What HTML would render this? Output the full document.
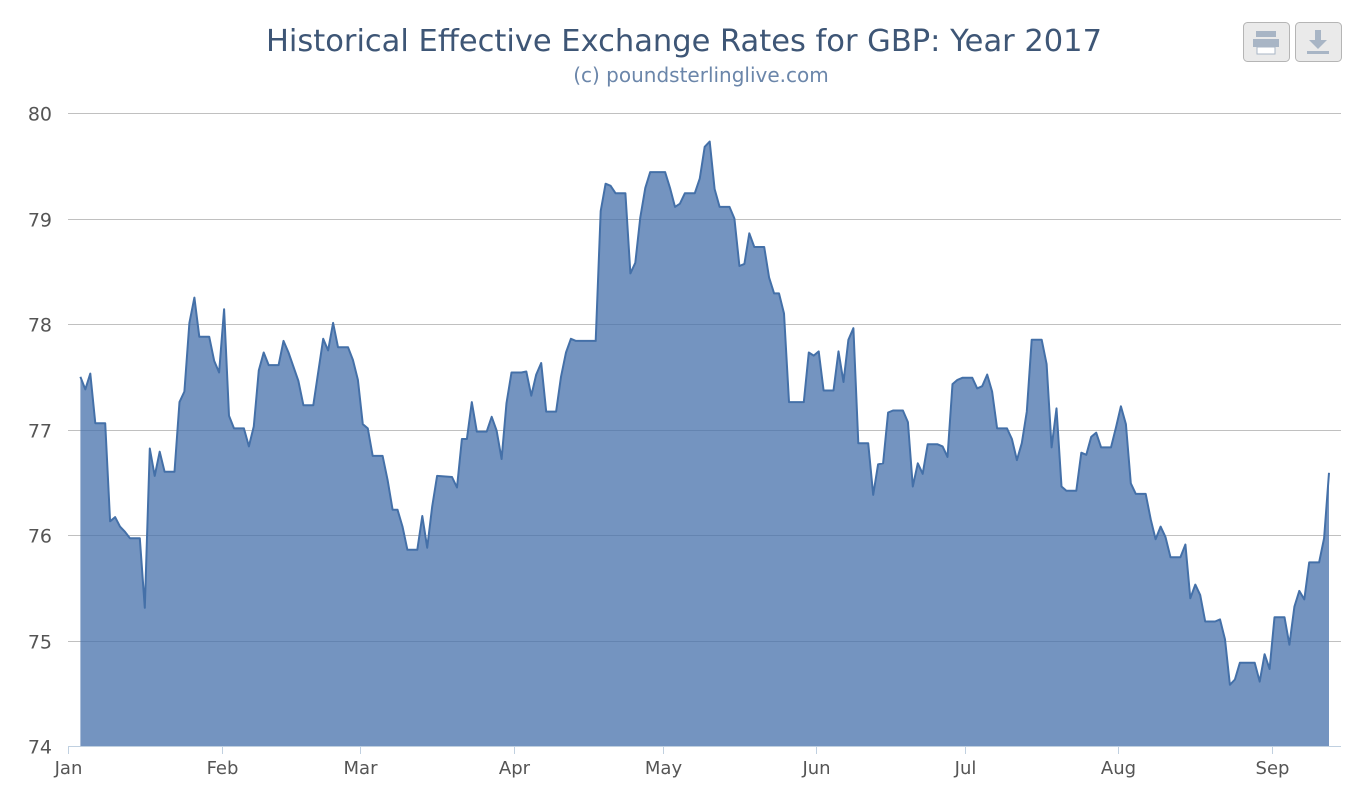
<!DOCTYPE html>
<html><head><meta charset="utf-8">
<style>
html,body{margin:0;padding:0;background:#fff;}
svg{display:block;}
text{font-family:"DejaVu Sans","Liberation Sans",sans-serif;}
</style></head>
<body>
<svg id="chart" width="1366" height="800" viewBox="0 0 1366 800">
  <text x="684" y="51" text-anchor="middle" font-size="30.5" fill="#3e5676">Historical Effective Exchange Rates for GBP: Year 2017</text>
  <text x="701" y="82" text-anchor="middle" font-size="20" fill="#6b86aa">(c) poundsterlinglive.com</text>
  <g>
    <rect x="1243.5" y="22.5" width="46" height="39" rx="4" fill="#eaeaea" stroke="#b5b5b5"/>
    <rect x="1256" y="31" width="20" height="6" fill="#a8b5c5"/>
    <rect x="1253" y="39" width="26" height="8" fill="#a8b5c5"/>
    <rect x="1257" y="47" width="18" height="7" fill="#fff" stroke="#a8b5c5"/>
  </g>
  <g>
    <rect x="1295.5" y="22.5" width="46" height="39" rx="4" fill="#eaeaea" stroke="#b5b5b5"/>
    <rect x="1315" y="30" width="6" height="10" fill="#a8b5c5"/>
    <polygon points="1309,40 1327,40 1318,49" fill="#a8b5c5"/>
    <rect x="1307" y="51" width="22" height="3" fill="#a8b5c5"/>
  </g>
  <g id="grid"></g>
  <g id="series"></g>
  <g id="axes"></g>
</svg>
<script>
const yTicks = [74, 75, 76, 77, 78, 79, 80];
const monthLabels = ["Jan","Feb","Mar","Apr","May","Jun","Jul","Aug","Sep"];
const monthStartDays = [0, 31, 59, 90, 120, 151, 181, 212, 243];
const days = [2,3,4,5,7,8,9,10,11,12,14,15,16,17,18,19,21,22,23,24,25,26,28,29,30,31,32,33,35,36,37,38,39,40,42,43,44,46,47,49,51,52,53,54,56,57,58,59,60,61,63,64,65,66,67,68,70,71,72,73,74,77,78,79,80,81,82,84,85,86,87,88,89,91,92,93,94,95,96,98,99,100,101,102,106,107,108,109,110,112,113,114,115,116,117,120,121,122,123,124,126,127,128,129,130,131,133,134,135,136,137,138,140,141,142,143,144,145,148,149,150,151,152,154,155,156,157,158,159,161,162,163,164,165,166,168,169,170,171,172,173,175,176,177,178,179,180,182,183,184,185,186,187,189,190,191,192,193,194,196,197,198,199,200,201,203,204,205,206,207,208,210,211,212,213,214,215,217,218,219,220,221,222,224,225,226,227,228,229,231,232,233,234,235,236,239,240,241,242,243,245,246,247,248,249,250,252,253,254];
const rates = [77.50,77.38,77.53,77.06,77.06,76.13,76.17,76.08,76.03,75.97,75.97,75.31,76.82,76.56,76.79,76.60,76.60,77.26,77.36,78.01,78.25,77.88,77.88,77.65,77.54,78.14,77.13,77.01,77.01,76.84,77.03,77.56,77.73,77.61,77.61,77.84,77.73,77.46,77.23,77.23,77.86,77.75,78.01,77.78,77.78,77.66,77.47,77.05,77.01,76.75,76.75,76.52,76.24,76.24,76.08,75.86,75.86,76.18,75.88,76.27,76.56,76.55,76.45,76.91,76.91,77.26,76.98,76.98,77.12,76.99,76.72,77.25,77.54,77.54,77.55,77.32,77.52,77.63,77.17,77.17,77.50,77.73,77.86,77.84,77.84,79.07,79.33,79.31,79.24,79.24,78.48,78.58,79.01,79.29,79.44,79.44,79.29,79.11,79.14,79.24,79.24,79.38,79.68,79.73,79.28,79.11,79.11,79.00,78.55,78.57,78.86,78.73,78.73,78.44,78.29,78.29,78.10,77.26,77.26,77.73,77.70,77.74,77.37,77.37,77.74,77.45,77.85,77.96,76.87,76.87,76.38,76.67,76.68,77.16,77.18,77.18,77.07,76.46,76.68,76.58,76.86,76.86,76.84,76.74,77.43,77.47,77.49,77.49,77.39,77.41,77.52,77.36,77.01,77.01,76.91,76.71,76.87,77.17,77.85,77.85,77.62,76.83,77.20,76.46,76.42,76.42,76.78,76.76,76.93,76.97,76.83,76.83,77.02,77.22,77.05,76.49,76.39,76.39,76.15,75.96,76.08,75.98,75.79,75.79,75.91,75.40,75.53,75.43,75.18,75.18,75.20,75.01,74.58,74.63,74.79,74.79,74.61,74.87,74.73,75.22,75.22,74.96,75.32,75.47,75.39,75.74,75.74,75.97,76.59];

const NS = "http://www.w3.org/2000/svg";
const plotL = 68, plotR = 1341, plotT = 113, plotB = 746;
const yMin = 74, yMax = 80, pxPerDay = 4.955;
function xDay(d){ return plotL + d * pxPerDay; }
function xPoint(d){ return plotL + (d + 0.5) * pxPerDay; }
function yVal(v){ return plotB - (v - yMin) / (yMax - yMin) * (plotB - plotT); }
function mk(tag, attrs, parent){ const e = document.createElementNS(NS, tag); for (const k in attrs) e.setAttribute(k, attrs[k]); parent.appendChild(e); return e; }

const grid = document.getElementById('grid');
const axes = document.getElementById('axes');
const series = document.getElementById('series');

yTicks.forEach(function(t){
  const y = Math.round(yVal(t)) + 0.5;
  const ln = mk('line', {x1: plotL, x2: plotR, y1: y, y2: y, stroke: '#c0c0c0', 'stroke-width': 1}, grid);
  
  
  const tx = mk('text', {x: 52, y: y + 7, 'text-anchor': 'end', 'font-size': 19, fill: '#555'}, axes);
  tx.textContent = String(t);
  
  
});

let d = 'M' + xPoint(days[0]).toFixed(1) + ',' + yVal(rates[0]).toFixed(1);
for (let i = 1; i < days.length; i++) d += ' L' + xPoint(days[i]).toFixed(1) + ',' + yVal(rates[i]).toFixed(1);
const areaD = d + ' L' + xPoint(days[days.length-1]).toFixed(1) + ',' + plotB + ' L' + xPoint(days[0]).toFixed(1) + ',' + plotB + ' Z';
const area = mk('path', {d: areaD, fill: '#4670ab', 'fill-opacity': 0.75}, series);


const line = mk('path', {d: d, fill: 'none', stroke: '#4470a8', 'stroke-width': 2, 'stroke-linejoin': 'round'}, series);



const xAxis = mk('line', {x1: plotL, x2: plotR, y1: plotB + 0.5, y2: plotB + 0.5, stroke: '#c0d0e0', 'stroke-width': 1}, axes);


monthLabels.forEach(function(m, i){
  const x = Math.round(xDay(monthStartDays[i])) + 0.5;
  const tk = mk('line', {x1: x, x2: x, y1: plotB, y2: plotB + 8, stroke: '#c0d0e0', 'stroke-width': 1}, axes);
  
  
  const tx = mk('text', {x: x, y: plotB + 28, 'text-anchor': 'middle', 'font-size': 18, fill: '#555'}, axes);
  tx.textContent = m;
  
  
});
</script>
</body></html>
